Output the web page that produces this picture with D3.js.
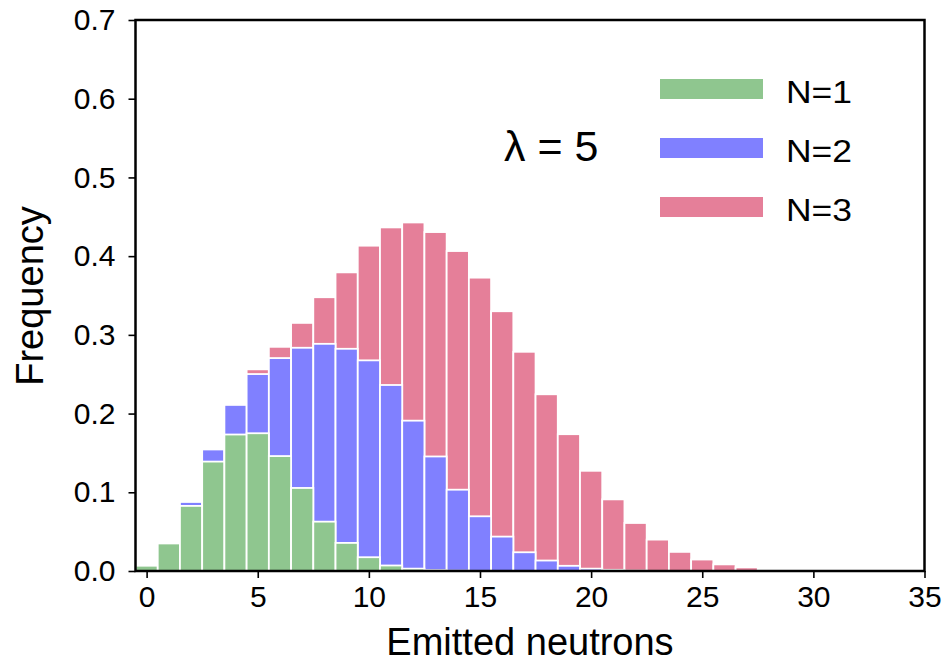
<!DOCTYPE html>
<html>
<head>
<meta charset="utf-8">
<script src="https://cdn.jsdelivr.net/npm/d3@7"></script>
<style>
  html, body { margin: 0; padding: 0; background: #fff; }
  svg { display: block; font-family: "Liberation Sans", Arial, sans-serif; }
</style>
</head>
<body>
<svg id="chart" width="949" height="663"></svg>
<script>
// ---- data ----
const neutrons = d3.range(0, 32);
// visible top height of each coloured bar
const n1 = [0.0067, 0.035, 0.0827, 0.139, 0.1734, 0.175, 0.146, 0.1055, 0.0627, 0.0357,
            0.0175, 0.007, 0.003, 0.0012, 0.0005, 0.0002, 0, 0, 0, 0,
            0, 0, 0, 0, 0, 0, 0, 0, 0, 0, 0, 0];
const n2 = [0.007, 0.0355, 0.0877, 0.1544, 0.211, 0.2502, 0.2705, 0.2836, 0.2886, 0.2823,
            0.2676, 0.2363, 0.191, 0.1455, 0.1033, 0.0695, 0.0437, 0.0238, 0.0133, 0.0066,
            0.003, 0.0015, 0.0006, 0.0002, 0, 0, 0, 0, 0, 0, 0, 0];
const n3 = [0.0076, 0.0357, 0.0886, 0.1557, 0.2131, 0.2562, 0.2848, 0.3152, 0.3478, 0.3794,
            0.4133, 0.4365, 0.4428, 0.4306, 0.4065, 0.3727, 0.330, 0.2785, 0.2245, 0.1738,
            0.1273, 0.091, 0.061, 0.0399, 0.0243, 0.0146, 0.0084, 0.0046, 0.0022, 0.001,
            0.0005, 0.0002];
const seriesNames = ["N=1", "N=2", "N=3"];
const seriesColors = ["#8fc68f", "#8080ff", "#e57f99"];
const xTicks = [0, 5, 10, 15, 20, 25, 30, 35];
const yTicks = [0, 0.1, 0.2, 0.3, 0.4, 0.5, 0.6, 0.7];
const annotation = "\u03bb = 5";

// ---- layout ----
const svg = d3.select("#chart");
const mLeft = 135.5, mRight = 924.5, mTop = 20, mBottom = 571;
const x = d3.scaleLinear().domain([-0.5, 35]).range([mLeft, mRight]);
const y = d3.scaleLinear().domain([0, 0.7]).range([mBottom, mTop]);

// bars: draw tallest first so lower ones sit in front
const layers = [
  { vals: n3, color: seriesColors[2] },
  { vals: n2, color: seriesColors[1] },
  { vals: n1, color: seriesColors[0] }
];
const plot = svg.append("g");
layers.forEach(layer => {
  plot.append("g").selectAll("rect")
    .data(neutrons.filter(i => layer.vals[i] > 0))
    .join("rect")
    .attr("x", i => x(i - 0.5))
    .attr("width", i => x(i + 0.5) - x(i - 0.5))
    .attr("y", i => y(layer.vals[i]))
    .attr("height", i => y(0) - y(layer.vals[i]))
    .attr("fill", layer.color)
    .attr("stroke", "#ffffff")
    .attr("stroke-width", 1.8);
});

// axes
const xAxis = d3.axisBottom(x).tickValues(xTicks).tickSize(7).tickPadding(8).tickFormat(d3.format("d"));
const yAxis = d3.axisLeft(y).tickValues(yTicks).tickSize(7).tickPadding(13).tickFormat(d3.format(".1f"));

const gx = svg.append("g").attr("transform", `translate(0,${mBottom})`).call(xAxis);
const gy = svg.append("g").attr("transform", `translate(${mLeft},0)`).call(yAxis);
[gx, gy].forEach(g => {
  g.select(".domain").remove();
  g.selectAll(".tick line").attr("stroke", "#000").attr("stroke-width", 1.6);
  g.selectAll(".tick text").attr("fill", "#000").style("font-size", "30px")
    .style("font-family", "'Liberation Sans', Arial, sans-serif");
});

// frame
svg.append("rect")
  .attr("x", mLeft).attr("y", mTop)
  .attr("width", mRight - mLeft).attr("height", mBottom - mTop)
  .attr("fill", "none").attr("stroke", "#000").attr("stroke-width", 2.5);

// axis titles
svg.append("text")
  .attr("x", 530).attr("y", 655)
  .attr("text-anchor", "middle")
  .style("font-size", "38px")
  .text("Emitted neutrons");
svg.append("text")
  .attr("transform", `translate(43,296) rotate(-90)`)
  .attr("text-anchor", "middle")
  .style("font-size", "38px")
  .text("Frequency");

// annotation
svg.append("text")
  .attr("x", 504).attr("y", 161)
  .style("font-size", "43px")
  .text(annotation);

// legend
const legend = svg.append("g");
seriesNames.forEach((name, i) => {
  const cy = 89 + i * 59;
  legend.append("rect")
    .attr("x", 660).attr("y", cy - 10)
    .attr("width", 103).attr("height", 20)
    .attr("fill", seriesColors[i]);
  legend.append("text")
    .attr("x", 786).attr("y", cy + 14)
    .style("font-size", "31px")
    .attr("textLength", 66)
    .attr("lengthAdjust", "spacingAndGlyphs")
    .text(name);
});
</script>
</body>
</html>
